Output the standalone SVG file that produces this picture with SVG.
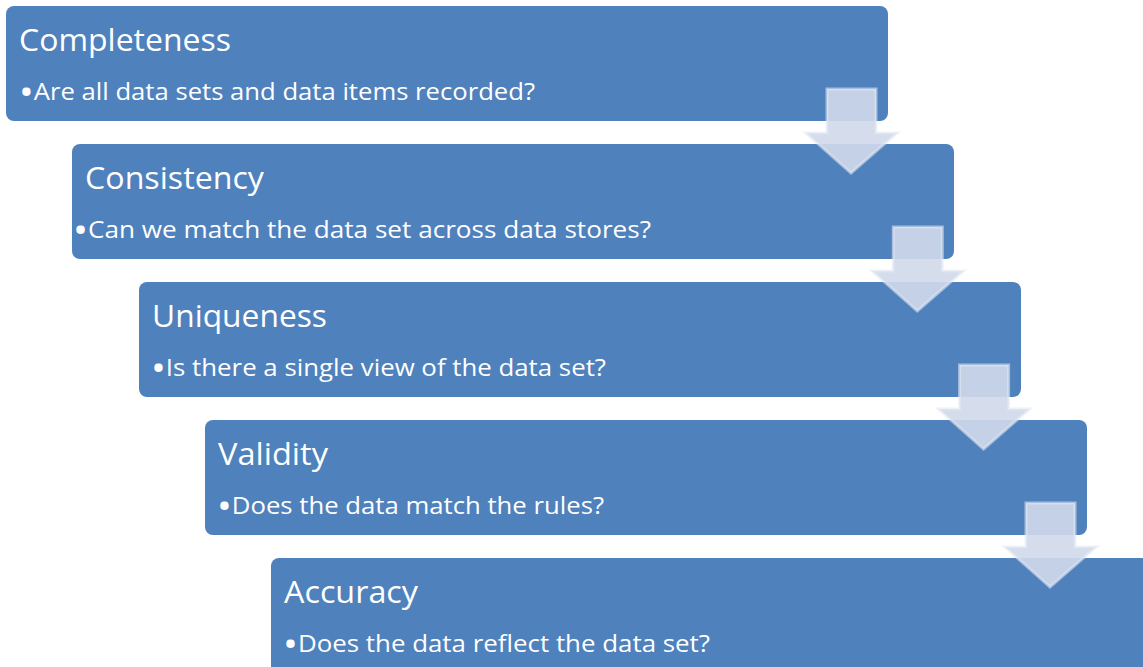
<svg xmlns="http://www.w3.org/2000/svg" width="1143" height="667" viewBox="0 0 1143 667">
<defs>
<style>
.box{fill:#4f81bd;}
.t{font-family:"Open Sans","Liberation Sans",sans-serif;fill:#ffffff;font-size:31px;}
.b{font-family:"Open Sans","Liberation Sans",sans-serif;fill:#ffffff;font-size:23.5px;}
.dot{font-size:36px;}
.arr{fill:#d0d9ea;fill-opacity:0.9;stroke:#e2e8f3;stroke-opacity:0.6;stroke-width:3;stroke-linejoin:miter;}
</style>
<path id="arrowShape" d="M827,89 H876 V133 H897 L851,173 L806,133 H827 Z"/>
</defs>
<rect width="1143" height="667" fill="#ffffff"/>
<g id="node-completeness">
<rect class="box" x="6" y="6" width="882" height="115" rx="8"/>
<text class="t" x="19" y="51" textLength="212" lengthAdjust="spacingAndGlyphs">Completeness</text>
<text class="b" x="19" y="100" textLength="516" lengthAdjust="spacingAndGlyphs"><tspan class="dot" dy="5">•</tspan><tspan dy="-5">Are all data sets and data items recorded?</tspan></text>
</g>
<g id="node-consistency">
<rect class="box" x="72" y="144" width="882" height="115" rx="8"/>
<text class="t" x="85" y="189" textLength="179" lengthAdjust="spacingAndGlyphs">Consistency</text>
<text class="b" x="73" y="238" textLength="578" lengthAdjust="spacingAndGlyphs"><tspan class="dot" dy="5">•</tspan><tspan dy="-5">Can we match the data set across data stores?</tspan></text>
</g>
<g id="node-uniqueness">
<rect class="box" x="139" y="282" width="882" height="115" rx="8"/>
<text class="t" x="152" y="327" textLength="175" lengthAdjust="spacingAndGlyphs">Uniqueness</text>
<text class="b" x="151" y="376" textLength="455" lengthAdjust="spacingAndGlyphs"><tspan class="dot" dy="5">•</tspan><tspan dy="-5">Is there a single view of the data set?</tspan></text>
</g>
<g id="node-validity">
<rect class="box" x="205" y="420" width="882" height="115" rx="8"/>
<text class="t" x="218" y="465" textLength="110" lengthAdjust="spacingAndGlyphs">Validity</text>
<text class="b" x="217" y="514" textLength="387" lengthAdjust="spacingAndGlyphs"><tspan class="dot" dy="5">•</tspan><tspan dy="-5">Does the data match the rules?</tspan></text>
</g>
<g id="node-accuracy">
<rect class="box" x="271" y="558" width="882" height="125" rx="8"/>
<text class="t" x="284" y="603" textLength="134" lengthAdjust="spacingAndGlyphs">Accuracy</text>
<text class="b" x="283" y="652" textLength="427" lengthAdjust="spacingAndGlyphs"><tspan class="dot" dy="5">•</tspan><tspan dy="-5">Does the data reflect the data set?</tspan></text>
</g>
<g id="connectors">
<use href="#arrowShape" class="arr"/>
<use href="#arrowShape" class="arr" transform="translate(66.3,138)"/>
<use href="#arrowShape" class="arr" transform="translate(132.6,276)"/>
<use href="#arrowShape" class="arr" transform="translate(199,414)"/>
</g>
</svg>
